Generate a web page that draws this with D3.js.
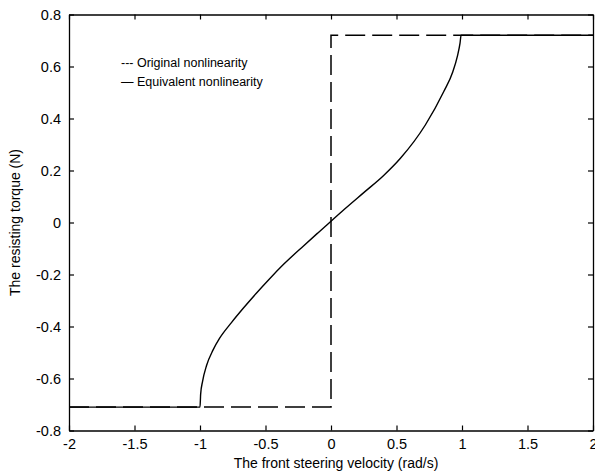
<!DOCTYPE html>
<html>
<head>
<meta charset="utf-8">
<script src="https://cdn.jsdelivr.net/npm/d3@7"></script>
<style>
  html, body { margin: 0; padding: 0; background: #fff; }
  svg { display: block; }
  text { font-family: "Liberation Sans", Arial, sans-serif; fill: #000; }
</style>
</head>
<body>
<svg id="chart" width="595" height="473"></svg>
<script>
// Tick values
const xTicks = [-2, -1.5, -1, -0.5, 0, 0.5, 1, 1.5, 2];
const yTicks = [-0.8, -0.6, -0.4, -0.2, 0, 0.2, 0.4, 0.6, 0.8];

// Original nonlinearity: ideal relay (Coulomb friction)
const origX = [-2, 0, 0, 2];
const origY = [-0.71, -0.71, 0.72, 0.72];

// Equivalent nonlinearity
const equivX = [-2, -1, -0.995, -0.98, -0.95, -0.9, -0.85, -0.76, -0.67, -0.57, -0.47, -0.36, -0.21, -0.1, 0, 0.1, 0.25, 0.4, 0.53, 0.72, 0.86, 0.93, 0.965, 0.985, 0.993, 2];
const equivY = [-0.71, -0.71, -0.66, -0.61, -0.55, -0.49, -0.445, -0.385, -0.33, -0.272, -0.217, -0.16, -0.09, -0.04, 0.005, 0.05, 0.115, 0.18, 0.247, 0.375, 0.503, 0.58, 0.64, 0.69, 0.72, 0.72];

const legendLabels = ["--- Original nonlinearity", "\u2014 Equivalent nonlinearity"];

const svg = d3.select("#chart");
const L = 69, R = 593, T = 14.5, B = 430.5;

const x = d3.scaleLinear().domain([-2, 2]).range([L, R]);
const y = d3.scaleLinear().domain([-0.8, 0.8]).range([B, T]);

// Plain hyphen-minus labels
const fmt = d => String(d);

// Frame with inward ticks on all four sides
const tickLen = 5;
const axes = [
  d3.axisBottom(x).tickValues(xTicks).tickFormat(fmt).tickSizeInner(-tickLen).tickSizeOuter(0).tickPadding(8),
  d3.axisTop(x).tickValues(xTicks).tickFormat("").tickSizeInner(-tickLen).tickSizeOuter(0),
  d3.axisLeft(y).tickValues(yTicks).tickFormat(fmt).tickSizeInner(-tickLen).tickSizeOuter(0).tickPadding(8),
  d3.axisRight(y).tickValues(yTicks).tickFormat("").tickSizeInner(-tickLen).tickSizeOuter(0)
];
const trans = [`translate(0,${B})`, `translate(0,${T})`, `translate(${L},0)`, `translate(${R},0)`];
axes.forEach((ax, i) => {
  const g = svg.append("g").attr("transform", trans[i]).call(ax);
  g.select(".domain").attr("stroke", "#000").attr("stroke-width", 1.3);
  g.selectAll(".tick line").attr("stroke", "#000").attr("stroke-width", 1.2);
  g.selectAll(".tick text").style("font-size", "14.5px").attr("font-family", "Liberation Sans, Arial, sans-serif");
});

// Original nonlinearity (dashed)
svg.append("path")
  .datum(origX.map((d, i) => [d, origY[i]]))
  .attr("fill", "none")
  .attr("stroke", "#000")
  .attr("stroke-width", 1.5)
  .attr("stroke-dasharray", "20,7")
  .attr("d", d3.line().x(d => x(d[0])).y(d => y(d[1])));

// Equivalent nonlinearity (solid)
svg.append("path")
  .datum(equivX.map((d, i) => [d, equivY[i]]))
  .attr("fill", "none")
  .attr("stroke", "#000")
  .attr("stroke-width", 1.4)
  .attr("d", d3.line().x(d => x(d[0])).y(d => y(d[1])).curve(d3.curveMonotoneX));

// Legend
svg.selectAll(".legend")
  .data(legendLabels)
  .enter().append("text")
  .attr("class", "legend")
  .attr("x", 121)
  .attr("y", (d, i) => 67 + i * 19)
  .style("font-size", "12.5px")
  .text(d => d);

// Axis titles
svg.append("text")
  .attr("x", (L + R) / 2 + 5)
  .attr("y", 468)
  .attr("text-anchor", "middle")
  .style("font-size", "14px")
  .text("The front steering velocity (rad/s)");

svg.append("text")
  .attr("transform", `translate(20,${(T + B) / 2}) rotate(-90)`)
  .attr("text-anchor", "middle")
  .style("font-size", "14px")
  .text("The resisting torque (N)");
</script>
</body>
</html>
